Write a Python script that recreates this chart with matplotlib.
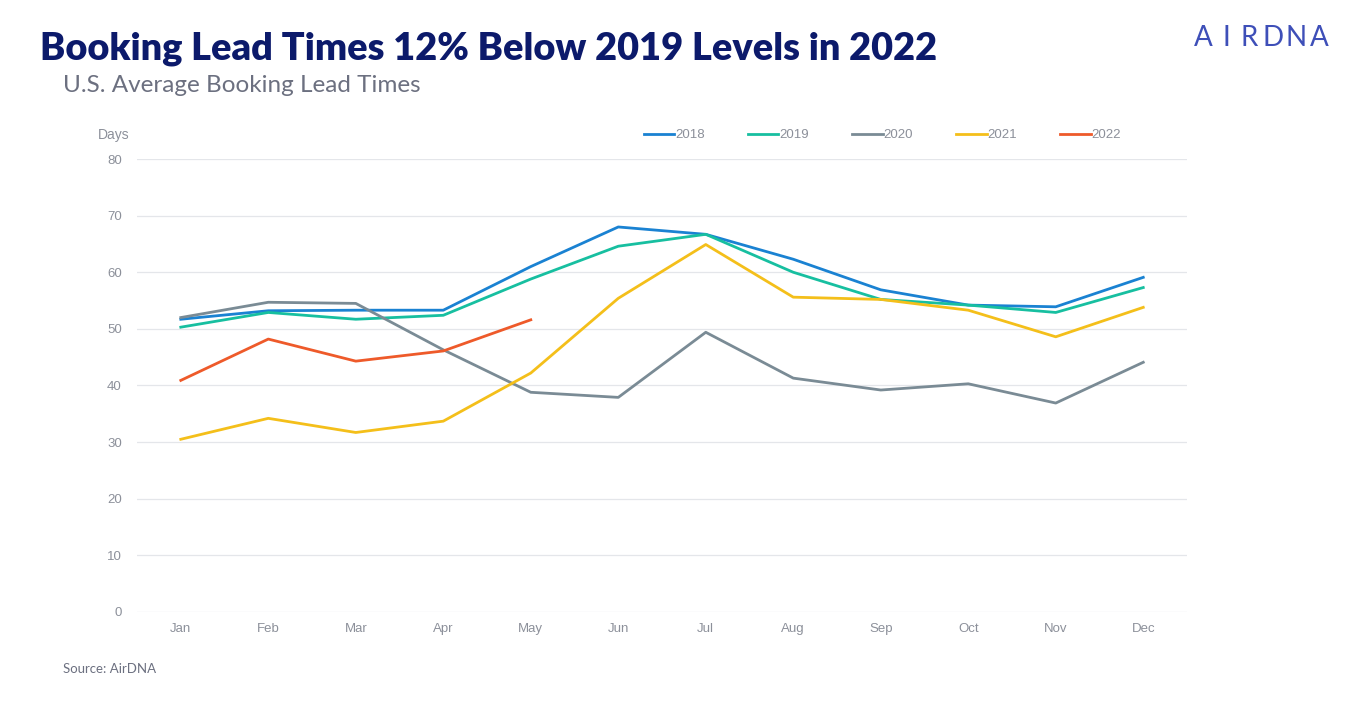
import matplotlib.pyplot as plt

# ---- data ----
months = ["Jan", "Feb", "Mar", "Apr", "May", "Jun",
          "Jul", "Aug", "Sep", "Oct", "Nov", "Dec"]
lead_2018 = [51.7, 53.2, 53.3, 53.3, 61.0, 68.0, 66.7, 62.3, 56.9, 54.2, 53.9, 59.1]
lead_2019 = [50.3, 52.9, 51.7, 52.4, 58.8, 64.6, 66.7, 60.0, 55.2, 54.2, 52.9, 57.3]
lead_2020 = [52.0, 54.7, 54.5, 46.3, 38.8, 37.9, 49.4, 41.3, 39.2, 40.3, 36.9, 44.1]
lead_2021 = [30.5, 34.2, 31.7, 33.7, 42.2, 55.4, 64.9, 55.6, 55.2, 53.3, 48.6, 53.8]
lead_2022 = [40.9, 48.2, 44.3, 46.1, 51.6]
yticks = [0, 10, 20, 30, 40, 50, 60, 70, 80]

series = [
    ("2018", lead_2018, "#1a82d2"),
    ("2019", lead_2019, "#17bfa0"),
    ("2020", lead_2020, "#7a8b95"),
    ("2021", lead_2021, "#f4bf1a"),
    ("2022", lead_2022, "#ee5a2a"),
]

NAVY = "#0c1a6b"
GREY_TXT = "#8c909a"
SUB_TXT = "#6c7080"
SANS = "Liberation Sans"

fig = plt.figure(figsize=(13.65, 7.16), dpi=100)
ax = fig.add_axes([0.1004, 0.1453, 0.7692, 0.6326])

for name, vals, col in series:
    ax.plot(range(len(vals)), vals, color=col, lw=2.0, label=name)

ax.set_xlim(-0.5, 11.5)
ax.set_ylim(0, 80)
ax.set_xticks(range(12))
ax.set_xticklabels(months, family=SANS)
ax.set_yticks(yticks)
ax.set_yticklabels([str(v) for v in yticks], family=SANS)
ax.tick_params(axis="both", length=0, labelsize=9.5, colors=GREY_TXT)
ax.tick_params(axis="x", pad=8)
ax.tick_params(axis="y", pad=11)
ax.grid(axis="y", color="#e4e6ea", lw=0.9)
ax.set_axisbelow(True)
for s in ax.spines.values():
    s.set_visible(False)

# "Days" label above the y axis
fig.text(98 / 1365, 1 - 135 / 716, "Days", fontsize=10, color=GREY_TXT,
         family=SANS, va="center", ha="left")

leg = ax.legend(loc="center left", bbox_to_anchor=(0.4827, 1.053), ncol=5,
                frameon=False, prop={"family": SANS, "size": 9.5},
                handlelength=2.3, handletextpad=0.05, columnspacing=3.3,
                labelcolor=GREY_TXT, borderaxespad=0, borderpad=0)

# ---- titles ----
fig.text(40 / 1365, 1 - 49 / 716, "Booking Lead Times 12% Below 2019 Levels in 2022",
         fontsize=27.3, fontweight="heavy", family="Lato", color=NAVY,
         va="center", ha="left")
fig.text(63 / 1365, 1 - 85 / 716, "U.S. Average Booking Lead Times",
         fontsize=17.5, fontweight="normal", family="Lato", color=SUB_TXT,
         va="center", ha="left")

# logo, letter-spaced
logo = "AIRDNA"
for i, ch in enumerate(logo):
    fig.text((1203 + i * 23.3) / 1365, 1 - 38 / 716, ch, fontsize=20,
             family="Lato", color="#3e4fb8", va="center", ha="center")

fig.text(63 / 1365, 1 - 669 / 716, "Source: AirDNA", fontsize=9.5,
         family="Lato", color=SUB_TXT, va="center", ha="left")

fig.savefig("out.png", dpi=100, facecolor="white")
